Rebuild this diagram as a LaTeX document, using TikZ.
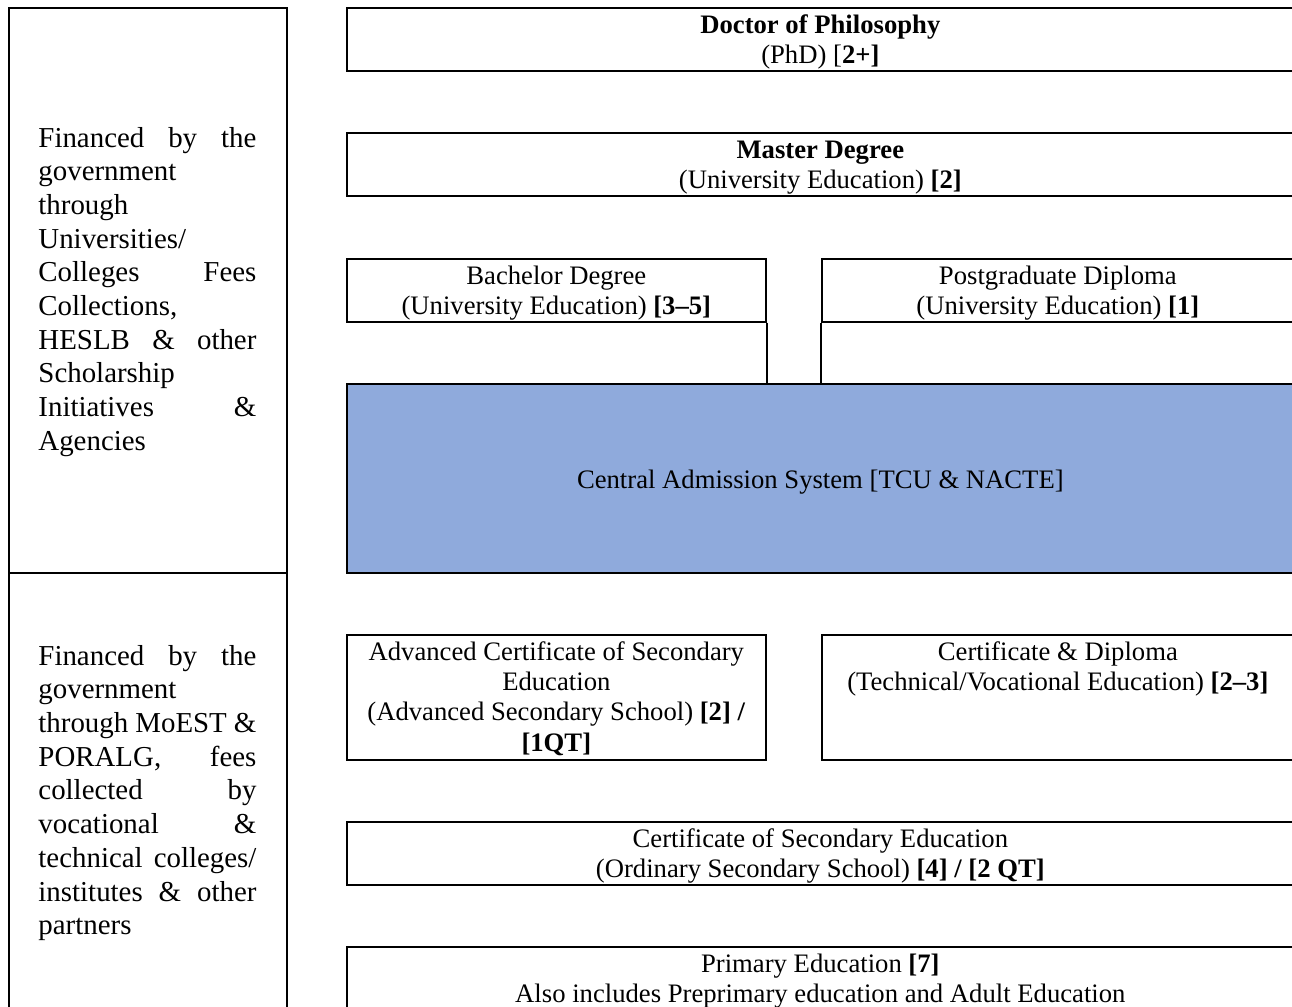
\documentclass[tikz,border=0pt]{standalone}
\usepackage{fontspec}
\setmainfont{Liberation Serif}
\usetikzlibrary{positioning,calc}
\definecolor{admblue}{HTML}{8FAADC}
\hbadness=10000
\newcommand{\fundline}[1]{{\spaceskip=0pt\xspaceskip=0pt\relax\makebox[98.1pt][s]{#1}}}

\tikzset{
  lvlbox/.style={draw, line width=0.75pt, rectangle, anchor=north west, inner sep=0pt},
  lvltext/.style={anchor=base, align=flush center, inner sep=0pt, text width=290pt, font=\fontsize{12}{13.7}\selectfont},
  fundtext/.style={anchor=base west, align=flush left, inner sep=0pt, text width=98.1pt, font=\fontsize{13}{15.17}\selectfont},
}

\begin{document}
\begin{tikzpicture}[x=0.45pt, y=-0.45pt]
        \useasboundingbox (0,0) rectangle (1292,1006);
        \clip (0,0) rectangle (1292,1006);
        \fill[white] (0,0) rectangle (1292,1006);

        % funding column
        \node[lvlbox, minimum width=125.1pt, minimum height=254.25pt] (fundhigh) at (8,7) {};
        \node[lvlbox, minimum width=125.1pt, minimum height=201.6pt] (fundlow) at (8,572) {};
        \node[fundtext] (fundhightxt) at ($(fundhigh.north west)+(30,140)$) {%
            \fundline{Financed by the}\\ government\\ through\\ Universities/\\
            \fundline{Colleges Fees}\\ Collections,\\ \fundline{HESLB \& other}\\
            Scholarship\\ \fundline{Initiatives \&}\\ Agencies};
        \node[fundtext] (fundlowtxt) at ($(fundlow.north west)+(30,93)$) {%
            \fundline{Financed by the}\\ government\\ \fundline{through MoEST \&}\\
            \fundline{PORALG, fees}\\ \fundline{collected by}\\ \fundline{vocational \&}\\
            \fundline{technical colleges/}\\ \fundline{institutes \& other}\\ partners};

        % higher education
        \node[lvlbox, minimum width=426.15pt, minimum height=28.35pt] (phd) at (346,7) {};
        \node[lvltext] (phdtxt) at ($(phd.north)+(0,26)$) {\textbf{Doctor of Philosophy}\\ (PhD) [\textbf{2+]}};

        \node[lvlbox, minimum width=426.15pt, minimum height=28.35pt] (master) at (346,132) {};
        \node[lvltext] (mastertxt) at ($(master.north)+(0,26)$) {\textbf{Master Degree}\\ (University Education) \textbf{[2]}};

        \node[lvlbox, minimum width=188.55pt, minimum height=28.35pt] (bachelor) at (346,258) {};
        \node[lvltext] (bachelortxt) at ($(bachelor.north)+(0,26)$) {Bachelor Degree\\ (University Education) \textbf{[3--5]}};

        \node[lvlbox, minimum width=212.4pt, minimum height=28.35pt] (pgdip) at (821,258) {};
        \node[lvltext] (pgdiptxt) at ($(pgdip.north)+(0,26)$) {Postgraduate Diploma\\ (University Education) \textbf{[1]}};

        % admission
        \node[lvlbox, fill=admblue, minimum width=426.15pt, minimum height=85.05pt,
              text height=11.6pt, text depth=2.6pt,
              font=\fontsize{12}{13.7}\selectfont] (admission) at (346,383) {Central Admission System [TCU \& NACTE]};
        \draw[line width=0.75pt] (bachelor.south east) -- (bachelor.south east |- admission.north);
        \draw[line width=0.75pt] (pgdip.south west) -- (pgdip.south west |- admission.north);

        % secondary and below
        \node[lvlbox, minimum width=188.55pt, minimum height=56.25pt] (acse) at (346,634) {};
        \node[lvltext] (acsetxt) at ($(acse.north)+(0,26)$) {Advanced Certificate of Secondary\\ Education\\
            (Advanced Secondary School) \textbf{[2] /}\\ \textbf{[1QT]}};

        \node[lvlbox, minimum width=212.4pt, minimum height=56.25pt] (techvoc) at (821,634) {};
        \node[lvltext] (techvoctxt) at ($(techvoc.north)+(0,26)$) {Certificate \& Diploma\\ (Technical/Vocational Education) \textbf{[2--3]}};

        \node[lvlbox, minimum width=426.15pt, minimum height=28.35pt] (csee) at (346,821) {};
        \node[lvltext] (cseetxt) at ($(csee.north)+(0,26)$) {Certificate of Secondary Education\\ (Ordinary Secondary School) \textbf{[4] / [2 QT]}};

        \node[lvlbox, minimum width=426.15pt, minimum height=33.3pt] (primary) at (346,946) {};
        \node[lvltext] (primarytxt) at ($(primary.north)+(0,26)$) {Primary Education \textbf{[7]}\\ Also includes Preprimary education and Adult Education};
    \end{tikzpicture}
\end{document}
